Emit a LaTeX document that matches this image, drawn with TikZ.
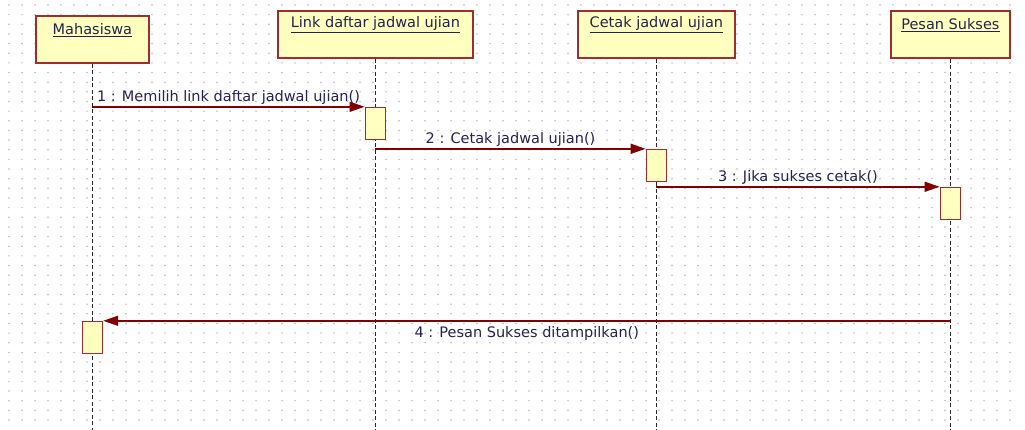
\documentclass[tikz,border=0pt]{standalone}
\usepackage{fontspec}
\setmainfont{DejaVu Sans}
\usetikzlibrary{arrows.meta,calc}
\definecolor{umlyellow}{RGB}{255,255,192}
\definecolor{umlborder}{RGB}{160,45,45}
\definecolor{umlred}{RGB}{128,0,0}
\definecolor{umltext}{RGB}{35,35,80}
\definecolor{griddot}{RGB}{185,185,185}

\begin{document}
\begin{tikzpicture}[x=1pt,y=-1pt,>={Triangle[length=15pt,width=10pt]},
    obj/.style={draw=umlborder,line width=1.8pt,fill=umlyellow,anchor=north west,inner sep=0pt},
    act/.style={draw=umlborder,line width=1.6pt,fill=umlyellow,minimum width=20pt,minimum height=32pt,anchor=north,inner sep=0pt},
    life/.style={line width=1.8pt,black!85,dash pattern=on 4pt off 2.5pt},
    msg/.style={umlred,line width=1.5pt,->},
    txt/.style={text=umltext,font=\fontsize{14.5}{16}\selectfont,inner sep=2pt}]
    \useasboundingbox (0,0) rectangle (1025,430);
    \fill[white] (0,0) rectangle (1025,430);
    % dotted grid
    \foreach \x in {9,22,...,1022} \foreach \y in {5,14.65,...,428} \fill[griddot] (\x,\y) circle (0.85);
    \coordinate (bot) at (0,430);
    % objects
    \node[obj,minimum width=113,minimum height=47] (mhs) at (35,15) {};
    \node[obj,minimum width=195,minimum height=47] (lnk) at (277,10) {};
    \node[obj,minimum width=157,minimum height=47] (ctk) at (577,10) {};
    \node[obj,minimum width=119,minimum height=47] (psn) at (890,10) {};
    \node[txt] at ([yshift=-15pt]mhs.north) {\underline{Mahasiswa}};
    \node[txt] at ([yshift=-15pt]lnk.north) {\underline{Link daftar jadwal ujian}};
    \node[txt] at ([yshift=-15pt]ctk.north) {\underline{Cetak jadwal ujian}};
    \node[txt] at ([yshift=-15pt]psn.north) {\underline{Pesan Sukses}};
    % lifelines
    \foreach \o in {mhs,lnk,ctk,psn} \draw[life] (\o.south) -- (\o.south |- bot);
    % activations
    \node[act] (a1) at ([yshift=-48pt]lnk.south) {};
    \node[act] (a2) at ([yshift=-90pt]ctk.south) {};
    \node[act] (a3) at ([yshift=-128pt]psn.south) {};
    \node[act] (a4) at ([yshift=-257pt]mhs.south) {};
    % messages
    \draw[msg] (mhs.south |- a1.north west) -- node[txt,above] {1 : Memilih link daftar jadwal ujian()} (a1.north west);
    \draw[msg] (lnk.south |- a2.north west) -- node[txt,above] {2 : Cetak jadwal ujian()} (a2.north west);
    \draw[msg] (ctk.south |- a3.north west) -- node[txt,above] {3 : Jika sukses cetak()} (a3.north west);
    \draw[msg] (psn.south |- a4.north east) -- node[txt,below=3pt] {4 : Pesan Sukses ditampilkan()} (a4.north east);
\end{tikzpicture}
\end{document}
